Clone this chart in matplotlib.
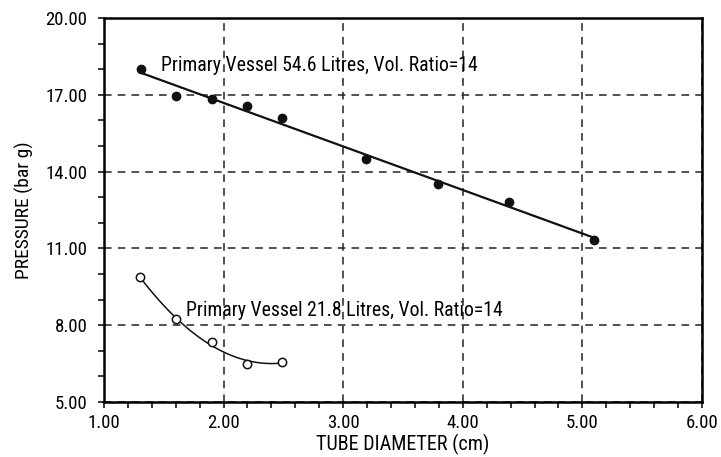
import numpy as np
import matplotlib
matplotlib.use("Agg")
import matplotlib.pyplot as plt
from matplotlib.ticker import MultipleLocator, FormatStrFormatter

plt.rcParams['font.family'] = ['Roboto Condensed', 'DejaVu Sans']

# ---- data ----
big_d = [1.31, 1.60, 1.90, 2.20, 2.49, 3.19, 3.79, 4.39, 5.10]
big_p = [18.0, 16.97, 16.82, 16.57, 16.09, 14.49, 13.53, 12.81, 11.32]

small_d = [1.30, 1.60, 1.90, 2.20, 2.49]
small_p = [9.89, 8.23, 7.36, 6.47, 6.57]

label_big = "Primary Vessel 54.6 Litres, Vol. Ratio=14"
label_small = "Primary Vessel 21.8 Litres, Vol. Ratio=14"

x_ticks = [1, 2, 3, 4, 5, 6]
y_ticks = [5, 8, 11, 14, 17, 20]

fig = plt.figure(figsize=(7.21, 4.57), dpi=100)
ax = fig.add_axes([0.1442, 0.1204, 0.8294, 0.8402])

# fitted line / curve
k = np.polyfit(big_d, big_p, 1)
xs = np.linspace(min(big_d), max(big_d), 50)
ax.plot(xs, np.polyval(k, xs), color="#111111", lw=1.6)
q = np.polyfit(small_d, small_p, 2)
xs2 = np.linspace(min(small_d), max(small_d), 80)
ax.plot(xs2, np.polyval(q, xs2), color="#111111", lw=1.1)

ax.plot(big_d, big_p, "o", color="#111111", ms=6, zorder=5)
ax.plot(small_d, small_p, "o", mfc="white", mec="#111111", mew=1.1, ms=6, zorder=5)

ax.text(1.48, 18.16, label_big, fontsize=14.2, va="center", ha="left")
ax.text(1.69, 8.59, label_small, fontsize=14.2, va="center", ha="left")

ax.set_xlim(1, 6); ax.set_ylim(5, 20)
ax.set_xticks(x_ticks)
ax.set_yticks(y_ticks)
ax.xaxis.set_minor_locator(MultipleLocator(0.2))
ax.yaxis.set_minor_locator(MultipleLocator(1.0))
ax.xaxis.set_major_formatter(FormatStrFormatter("%.2f"))
ax.yaxis.set_major_formatter(FormatStrFormatter("%.2f"))
ax.tick_params(which="both", direction="out", length=4, width=1.1, labelsize=13.5)
ax.tick_params(axis="y", pad=8)
ax.tick_params(axis="x", pad=5)
ax.grid(True, which="major", ls=(0, (5, 4)), color="#222222", lw=1.1)
for s in ax.spines.values():
    s.set_linewidth(1.8)

ax.set_xlabel("TUBE DIAMETER (cm)", fontsize=14.5, labelpad=1)
ax.set_ylabel("PRESSURE (bar g)", fontsize=14, labelpad=8)

fig.savefig("out.png", dpi=100)
